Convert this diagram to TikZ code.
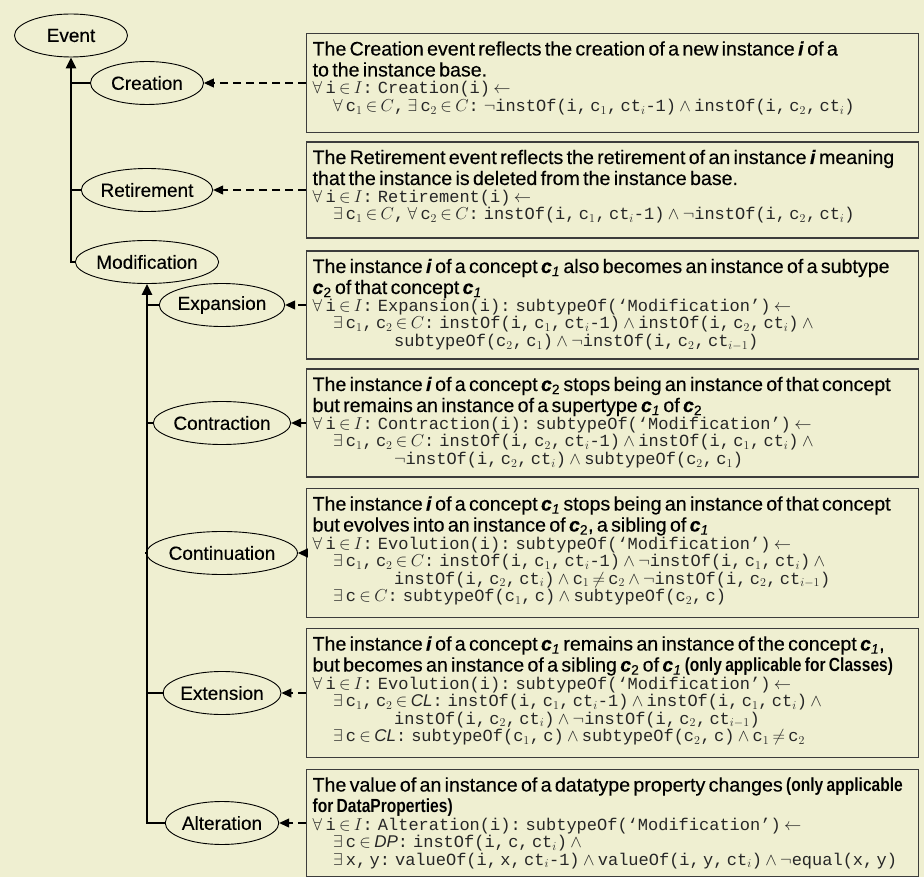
\documentclass[tikz,border=0pt]{standalone}
\usepackage{fontspec}
\setmainfont{Liberation Sans}
\setmonofont{Liberation Mono}
\newfontfamily\descsans[FakeBold=0.3]{Liberation Sans}
\newfontfamily\narrowsans[FakeStretch=0.82]{Liberation Sans}
\usetikzlibrary{shapes.geometric,arrows.meta}

\definecolor{paper}{RGB}{239,239,209}
\definecolor{boxline}{RGB}{60,60,60}

\newcommand{\descfont}{\descsans\fontsize{19.6}{21}\selectfont}
\newcommand{\formfont}{\ttfamily\fontsize{17}{17.5}\selectfont\color{black!85}}
\newcommand{\vi}{\textbf{\textit{i}}}
\newcommand{\cone}{\textbf{\textit{c}}\textsubscript{\textit{1}}}
\newcommand{\ctwo}{\textbf{\textit{c}}\textsubscript{2}}
\newcommand{\ind}{\hspace*{1.2em}}
\newcommand{\indd}{\hspace*{4.8em}}
\newcommand{\narrowbold}[1]{{\narrowsans\bfseries\fontsize{19}{21}\selectfont #1}}

\begin{document}
\begin{tikzpicture}[x=10pt,y=10pt]
    \tikzstyle{every node}+=[inner sep=0pt]
    \tikzstyle{concept}=[ellipse, draw=black, line width=0.9pt, fill=paper, minimum width=113pt, minimum height=43pt, font=\descsans\fontsize{19}{20}\selectfont]
    \tikzstyle{descbox}=[draw=boxline, line width=1.2pt, fill=paper, anchor=west, text width=600pt, align=left, inner xsep=6pt, inner ysep=8pt, text height=14pt]
    \tikzstyle{trunk}=[line width=2.4pt, line cap=rect]
    \tikzstyle{link}=[line width=1.1pt, dash pattern=on 8pt off 5pt, -{Triangle[length=10pt,width=9pt]}]
    \fill [paper] (0,0) rectangle (92.4,-87.7);
    \useasboundingbox (0,0) rectangle (92.4,-87.7);
    % the concept tree
    \node [concept] (Event) at (7.1,-3.55) {Event};
    \node [concept] (Creation) at (14.7,-8.3) {Creation};
    \node [concept] (Retirement) at (14.7,-19.0) {Retirement};
    \node [concept] (Modification) at (14.7,-26.2) {Modification};
    \node [concept] (Expansion) at (22.2,-30.5) {Expansion};
    \node [concept] (Contraction) at (22.2,-42.3) {Contraction};
    \node [concept] (Continuation) at (22.2,-55.3) {Continuation};
    \node [concept] (Extension) at (22.2,-69.3) {Extension};
    \node [concept] (Alteration) at (22.2,-82.3) {Alteration};
    \draw [trunk, {Triangle[length=11pt,width=10pt]}-] (Event.south) |- (Modification.west);
    \draw [trunk] (Event.south |- Creation.west) -- (Creation.west);
    \draw [trunk] (Event.south |- Retirement.west) -- (Retirement.west);
    \draw [trunk, {Triangle[length=11pt,width=10pt]}-] (Modification.south) |- (Alteration.west);
    \draw [trunk] (Modification.south |- Expansion.west) -- (Expansion.west);
    \draw [trunk] (Modification.south |- Contraction.west) -- (Contraction.west);
    \draw [trunk] (Modification.south |- Continuation.west) -- (Continuation.west);
    \draw [trunk] (Modification.south |- Extension.west) -- (Extension.west);
    % the definitions (box height = 30pt + text depth)
    \node [descbox, text depth=69pt] (dCreation) at (30.6,-8.3) {%
      {\descfont The Creation event reflects the creation of a new instance \vi{} of a\\
      to the instance base.\par}
      {\formfont $\forall$ i $\in$ $I$: Creation(i) $\leftarrow$\\
      \ind$\forall$ c$_1$ $\in$ $C$, $\exists$ c$_2$ $\in$ $C$: $\neg$instOf(i, c$_1$, ct$_i$-1) $\wedge$ instOf(i, c$_2$, ct$_i$)\par}};
    \node [descbox, text depth=66pt] (dRetirement) at (30.6,-19.0) {%
      {\descfont The Retirement event reflects the retirement of an instance \vi{} meaning\\
      that the instance is deleted from the instance base.\par}
      {\formfont $\forall$ i $\in$ $I$: Retirement(i) $\leftarrow$\\
      \ind$\exists$ c$_1$ $\in$ $C$, $\forall$ c$_2$ $\in$ $C$: instOf(i, c$_1$, ct$_i$-1) $\wedge$ $\neg$instOf(i, c$_2$, ct$_i$)\par}};
    \node [descbox, text depth=78pt] (dExpansion) at (30.6,-30.5) {%
      {\descfont The instance \vi{} of a concept \cone{} also becomes an instance of a subtype\\
      \ctwo{} of that concept \cone\par}
      {\formfont $\forall$ i $\in$ $I$: Expansion(i): subtypeOf(‘Modification’) $\leftarrow$\\
      \ind$\exists$ c$_1$, c$_2$ $\in$ $C$: instOf(i, c$_1$, ct$_i$-1) $\wedge$ instOf(i, c$_2$, ct$_i$) $\wedge$\\
      \indd subtypeOf(c$_2$, c$_1$) $\wedge$ $\neg$instOf(i, c$_2$, ct$_{i-1}$)\par}};
    \node [descbox, text depth=78pt] (dContraction) at (30.6,-42.3) {%
      {\descfont The instance \vi{} of a concept \ctwo{} stops being an instance of that concept\\
      but remains an instance of a supertype \cone{} of \ctwo\par}
      {\formfont $\forall$ i $\in$ $I$: Contraction(i): subtypeOf(‘Modification’) $\leftarrow$\\
      \ind$\exists$ c$_1$, c$_2$ $\in$ $C$: instOf(i, c$_2$, ct$_i$-1) $\wedge$ instOf(i, c$_1$, ct$_i$) $\wedge$\\
      \indd$\neg$instOf(i, c$_2$, ct$_i$) $\wedge$ subtypeOf(c$_2$, c$_1$)\par}};
    \node [descbox, text depth=99pt] (dContinuation) at (30.6,-55.3) {%
      {\descfont The instance \vi{} of a concept \cone{} stops being an instance of that concept\\
      but evolves into an instance of \ctwo, a sibling of \cone\par}
      {\formfont $\forall$ i $\in$ $I$: Evolution(i): subtypeOf(‘Modification’) $\leftarrow$\\
      \ind$\exists$ c$_1$, c$_2$ $\in$ $C$: instOf(i, c$_1$, ct$_i$-1) $\wedge$ $\neg$instOf(i, c$_1$, ct$_i$) $\wedge$\\
      \indd instOf(i, c$_2$, ct$_i$) $\wedge$ c$_1$ $\neq$ c$_2$ $\wedge$ $\neg$instOf(i, c$_2$, ct$_{i-1}$)\\
      \ind$\exists$ c $\in$ $C$: subtypeOf(c$_1$, c) $\wedge$ subtypeOf(c$_2$, c)\par}};
    \node [descbox, text depth=99pt] (dExtension) at (30.6,-69.3) {%
      {\descfont The instance \vi{} of a concept \cone{} remains an instance of the concept \cone,\\
      but becomes an instance of a sibling \ctwo{} of \cone{} \narrowbold{(only applicable for Classes)}\par}
      {\formfont $\forall$ i $\in$ $I$: Evolution(i): subtypeOf(‘Modification’) $\leftarrow$\\
      \ind$\exists$ c$_1$, c$_2$ $\in$ $\mathit{CL}$: instOf(i, c$_1$, ct$_i$-1) $\wedge$ instOf(i, c$_1$, ct$_i$) $\wedge$\\
      \indd instOf(i, c$_2$, ct$_i$) $\wedge$ $\neg$instOf(i, c$_2$, ct$_{i-1}$)\\
      \ind$\exists$ c $\in$ $\mathit{CL}$: subtypeOf(c$_1$, c) $\wedge$ subtypeOf(c$_2$, c) $\wedge$ c$_1$ $\neq$ c$_2$\par}};
    \node [descbox, text depth=77pt] (dAlteration) at (30.6,-82.3) {%
      {\descfont The value of an instance of a datatype property changes \narrowbold{(only applicable\\
      for DataProperties)}\par}
      {\formfont $\forall$ i $\in$ $I$: Alteration(i): subtypeOf(‘Modification’) $\leftarrow$\\
      \ind$\exists$ c $\in$ $\mathit{DP}$: instOf(i, c, ct$_i$) $\wedge$\\
      \ind$\exists$ x, y: valueOf(i, x, ct$_i$-1) $\wedge$ valueOf(i, y, ct$_i$) $\wedge$ $\neg$equal(x, y)\par}};
    % links from the definitions
    \draw [link] (dCreation.west) -- (Creation.east);
    \draw [link] (dRetirement.west) -- (Retirement.east);
    \draw [link] (dExpansion.west) -- (Expansion.east);
    \draw [link] (dContraction.west) -- (Contraction.east);
    \draw [link] (dContinuation.west) -- (Continuation.east);
    \draw [link] (dExtension.west) -- (Extension.east);
    \draw [link] (dAlteration.west) -- (Alteration.east);
\end{tikzpicture}
\end{document}
